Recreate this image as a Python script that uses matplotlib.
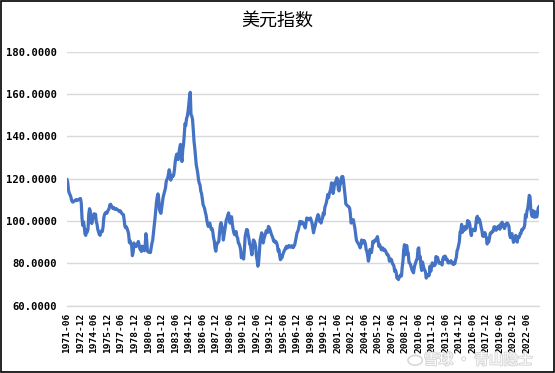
import matplotlib
matplotlib.use("Agg")
import matplotlib.pyplot as plt
import matplotlib.patheffects as pe
from matplotlib.patches import Rectangle, Circle
import numpy as np

plt.rcParams['font.family'] = ['Noto Sans CJK SC', 'DejaVu Sans']

# monthly dollar index, 1971-06 .. 2023-10
start_year, start_month = 1971, 6
dxy = [
    # 1971 (Jun-Dec)
    119.5, 118.3, 114.6, 113.2, 112.4, 111.6, 110.0,
    # 1972
    109.1, 108.9, 109.3, 109.5, 109.7, 110.1, 109.6, 109.8, 110.0, 110.2, 110.5, 110.6,
    # 1973
    108.4, 101.2, 97.9, 99.6, 97.2, 93.8, 93.2, 95.9, 94.8, 96.1, 103.4, 105.8,
    # 1974
    104.7, 100.1, 98.8, 100.6, 102.3, 103.4, 101.7, 103.2, 99.6, 98.4, 96.0, 94.8,
    # 1975
    93.6, 93.2, 94.5, 95.4, 95.0, 97.2, 101.5, 103.1, 103.8, 104.1, 103.6, 104.5,
    # 1976
    105.2, 105.8, 107.6, 107.9, 107.2, 106.5, 105.9, 106.4, 105.7, 105.5, 105.9, 105.6,
    # 1977
    105.4, 105.1, 104.7, 104.4, 104.8, 104.2, 103.5, 103.2, 103.0, 100.8, 97.6, 96.8,
    # 1978
    97.2, 96.4, 95.3, 93.8, 89.8, 90.6, 89.2, 88.4, 83.6, 85.1, 89.6, 87.8,
    # 1979
    88.2, 87.9, 88.6, 89.5, 90.3, 88.4, 86.7, 86.9, 85.6, 88.1, 87.2, 86.3,
    # 1980
    85.9, 88.3, 94.0, 91.2, 85.8, 85.4, 85.2, 85.6, 85.1, 87.3, 89.5, 90.8,
    # 1981
    94.4, 97.6, 100.8, 104.5, 108.6, 111.2, 112.8, 110.6, 105.4, 104.2, 103.6, 106.1,
    # 1982
    108.9, 111.4, 112.8, 114.0, 115.5, 118.6, 119.6, 120.3, 122.1, 124.2, 122.5, 119.3,
    # 1983
    120.6, 121.4, 121.0, 121.8, 124.3, 128.0, 130.2, 131.6, 129.4, 129.0, 132.3, 134.6,
    # 1984
    136.2, 130.4, 128.1, 133.6, 136.0, 140.5, 146.0, 145.2, 148.3, 149.4, 151.5, 154.8,
    # 1985
    158.6, 160.8, 150.2, 149.6, 148.0, 143.2, 137.6, 134.5, 130.6, 126.5, 124.6, 122.4,
    # 1986
    119.5, 117.8, 117.0, 114.1, 113.0, 110.6, 107.8, 106.9, 106.0, 104.2, 102.8, 100.5,
    # 1987
    98.6, 97.4, 98.2, 99.0, 97.3, 96.0, 96.4, 94.8, 92.0, 90.5, 87.1, 85.7,
    # 1988
    88.4, 89.6, 89.8, 90.4, 94.6, 98.0, 99.2, 97.4, 95.8, 91.0, 93.4, 96.0,
    # 1989
    98.2, 100.6, 101.4, 102.8, 103.8, 101.5, 99.0, 101.2, 102.0, 98.4, 96.2, 94.4,
    # 1990
    93.5, 93.9, 95.0, 92.6, 92.0, 89.6, 89.2, 88.0, 86.5, 82.6, 84.0, 83.4,
    # 1991
    82.0, 86.5, 92.6, 94.2, 96.0, 95.8, 93.5, 91.8, 89.0, 88.6, 86.4, 84.0,
    # 1992
    87.6, 91.0, 90.6, 89.6, 87.8, 83.4, 81.4, 78.6, 80.6, 85.4, 91.0, 92.6,
    # 1993
    94.4, 93.2, 89.6, 91.5, 92.6, 93.8, 95.4, 95.0, 94.6, 97.4, 96.9, 96.0,
    # 1994
    94.8, 93.6, 92.8, 91.8, 90.4, 90.8, 89.8, 90.2, 89.6, 88.2, 85.7, 86.4,
    # 1995
    83.6, 81.7, 82.4, 82.6, 84.0, 85.0, 85.9, 86.5, 87.4, 88.0, 87.2, 87.6,
    # 1996
    88.4, 87.8, 88.0, 87.6, 88.3, 88.0, 87.4, 88.1, 88.8, 90.5, 92.6, 94.4,
    # 1997
    95.0, 96.2, 98.0, 99.8, 99.2, 98.6, 99.6, 99.0, 98.4, 97.6, 96.7, 99.2,
    # 1998
    101.4, 100.8, 101.2, 100.9, 100.6, 101.4, 100.2, 99.0, 96.8, 94.4, 96.2, 97.4,
    # 1999
    99.0, 100.6, 101.8, 103.0, 102.4, 99.8, 100.5, 99.0, 100.6, 101.4, 103.8, 102.9,
    # 2000
    106.3, 107.4, 108.6, 110.4, 112.5, 111.0, 113.0, 114.0, 115.5, 118.0, 116.2, 113.0,
    # 2001
    114.8, 118.0, 117.4, 119.2, 120.4, 119.6, 115.0, 114.2, 116.6, 117.8, 120.4, 121.0,
    # 2002
    121.0, 118.6, 115.0, 112.0, 108.0, 107.6, 107.2, 107.0, 106.6, 106.0, 103.4, 99.0,
    # 2003
    99.6, 100.2, 100.6, 98.4, 96.7, 94.0, 91.0, 90.2, 89.6, 88.9, 88.4, 87.3,
    # 2004
    88.6, 91.0, 90.0, 89.6, 90.8, 90.4, 89.2, 86.5, 85.6, 83.6, 81.0, 82.6,
    # 2005
    86.5, 85.8, 85.0, 87.2, 90.4, 89.8, 90.6, 91.0, 90.6, 91.8, 92.6, 90.6,
    # 2006
    88.0, 88.8, 87.6, 86.5, 86.3, 87.3, 86.8, 86.0, 86.4, 85.7, 84.8, 84.0,
    # 2007
    84.0, 83.2, 81.0, 81.6, 82.0, 81.4, 79.8, 79.4, 78.6, 76.2, 76.8, 75.6,
    # 2008
    73.0, 73.6, 72.3, 73.4, 73.8, 74.6, 74.0, 78.2, 81.0, 86.4, 88.8, 84.0,
    # 2009
    86.2, 88.4, 85.6, 84.8, 80.4, 80.0, 79.4, 78.2, 76.8, 76.2, 75.5, 77.9,
    # 2010
    79.4, 80.4, 81.6, 82.0, 86.8, 87.3, 82.5, 83.2, 78.4, 76.6, 80.6, 79.0,
    # 2011
    77.4, 76.8, 75.8, 73.0, 74.6, 74.2, 74.0, 74.4, 78.6, 76.2, 78.4, 80.2,
    # 2012
    79.4, 78.8, 79.0, 79.4, 83.2, 81.8, 82.8, 81.4, 80.0, 80.2, 80.4, 79.8,
    # 2013
    79.2, 82.0, 83.0, 82.0, 83.4, 82.8, 81.6, 81.8, 80.2, 80.2, 80.6, 80.2,
    # 2014
    81.2, 80.2, 80.0, 79.4, 80.4, 79.8, 81.6, 82.8, 86.0, 86.8, 88.4, 90.2,
    # 2015
    94.8, 95.4, 98.4, 94.6, 96.9, 95.5, 97.3, 96.1, 96.3, 97.0, 100.2, 98.6,
    # 2016
    99.6, 98.2, 94.6, 93.1, 95.9, 96.1, 95.5, 96.0, 95.4, 98.4, 101.5, 102.2,
    # 2017
    99.5, 101.1, 100.4, 99.0, 97.0, 95.6, 92.9, 92.7, 93.1, 94.5, 93.0, 92.1,
    # 2018
    89.1, 90.6, 90.0, 91.8, 94.0, 94.5, 94.4, 95.1, 95.1, 97.1, 97.3, 96.2,
    # 2019
    95.6, 96.2, 97.3, 97.5, 97.8, 96.1, 98.5, 98.9, 99.4, 97.4, 98.3, 96.4,
    # 2020
    97.4, 98.1, 99.0, 99.0, 98.3, 97.4, 93.3, 92.1, 93.9, 94.0, 91.9, 89.9,
    # 2021
    90.6, 90.9, 93.2, 91.3, 90.0, 92.4, 92.2, 92.6, 94.2, 94.1, 95.9, 95.7,
    # 2022
    96.5, 96.7, 98.3, 103.0, 101.7, 104.7, 105.9, 108.7, 112.1, 111.5, 105.9, 103.5,
    # 2023 (Jan-Oct)
    102.1, 104.9, 102.5, 101.7, 104.3, 102.9, 101.9, 103.6, 106.2, 106.7,
]

# category labels "YYYY-MM"
dates = []
for i in range(len(dxy)):
    m = start_month - 1 + i
    dates.append(f"{start_year + m // 12}-{m % 12 + 1:02d}")

y_ticks = [60, 80, 100, 120, 140, 160, 180]
label_step = 18
mono = ['DejaVu Sans Mono']

fig = plt.figure(figsize=(5.55, 3.73), dpi=100)
ax = fig.add_axes([0.1207, 0.1807, 0.8505, 0.6807])

x = np.arange(len(dxy))
ax.plot(x, dxy, color='#4472C4', linewidth=2.3, solid_joinstyle='round')

ax.set_xlim(0, len(dxy) - 1)
ax.set_ylim(60, 180)
ax.set_yticks(y_ticks)
ax.set_yticklabels([f"{v:.4f}" for v in y_ticks], fontsize=7.6, family=mono,
                   fontweight='bold', color='black')
tick_pos = x[::label_step]
ax.set_xticks(tick_pos)
ax.set_xticklabels([dates[i] for i in tick_pos], rotation=90, fontsize=6.8,
                   family=mono, fontweight='bold', color='black')
ax.tick_params(axis='both', length=0)
ax.tick_params(axis='y', pad=7)
ax.tick_params(axis='x', pad=5)

ax.grid(axis='y', color='#D9D9D9', linewidth=1)
ax.set_axisbelow(True)
for side in ['top', 'right', 'left']:
    ax.spines[side].set_visible(False)
ax.spines['bottom'].set_color('#D9D9D9')
ax.spines['bottom'].set_linewidth(1)

fig.text(0.5, 0.945, "美元指数", ha='center', va='center', fontsize=13)

# faint watermark, kept below the date labels
fig.text(0.862, 0.034, "雪球 · 青山隐士", ha='center', va='center',
         fontsize=10.5, color='white', zorder=0,
         path_effects=[pe.withStroke(linewidth=1.4, foreground='#d6d6d6')])
fig.patches.append(Circle((0.748, 0.034), 0.013, transform=fig.transFigure,
                          fill=False, edgecolor='#d6d6d6', linewidth=1.1))

# chart frame
fig.patches.append(Rectangle((0.001, 0.002), 0.997, 0.995, transform=fig.transFigure,
                             fill=False, edgecolor='black', linewidth=1.2))

fig.savefig("out.png", dpi=100)
